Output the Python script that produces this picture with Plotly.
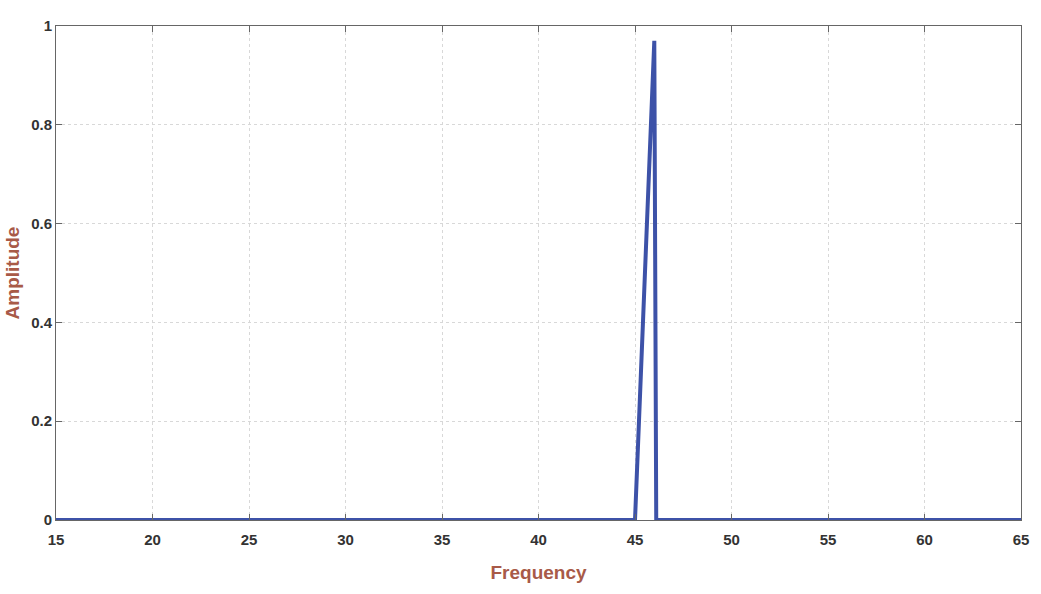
import plotly.graph_objects as go

freq = [15, 45.0, 46.0, 46.1, 65]
amplitude = [0, 0, 0.97, 0, 0]
x_ticks = [15, 20, 25, 30, 35, 40, 45, 50, 55, 60, 65]
y_ticks = [0, 0.2, 0.4, 0.6, 0.8, 1]
y_labels = ["0", "0.2", "0.4", "0.6", "0.8", "1"]

fig = go.Figure()
fig.add_trace(go.Scatter(x=freq, y=amplitude, mode="lines",
                         line=dict(color="#3d52a8", width=4), showlegend=False))

tick_font = dict(family="Liberation Sans Narrow, Arial Narrow, sans-serif", size=15,
                 color="#333333", weight="bold")
title_font = dict(family="Liberation Sans Narrow, Arial Narrow, sans-serif", size=19,
                  color="#a85a48", weight="bold")

fig.update_layout(
    width=1041, height=594,
    margin=dict(l=55, r=14, t=26, b=74),
    paper_bgcolor="white", plot_bgcolor="white",
    xaxis=dict(range=[15, 65], tickvals=x_ticks, ticktext=[str(v) for v in x_ticks],
               showgrid=True, gridcolor="#d8d8d8", griddash="dot", gridwidth=1,
               showline=True, linecolor="#666666", linewidth=1, mirror="ticks",
               ticks="inside", ticklen=6, tickcolor="#666666",
               tickfont=tick_font, zeroline=False, ticklabelstandoff=6,
               title=dict(text="Frequency", font=title_font, standoff=18)),
    yaxis=dict(range=[0, 1], tickvals=y_ticks, ticktext=y_labels,
               showgrid=True, gridcolor="#d8d8d8", griddash="dot", gridwidth=1,
               showline=True, linecolor="#666666", linewidth=1, mirror="ticks",
               ticks="inside", ticklen=6, tickcolor="#666666",
               tickfont=tick_font, zeroline=False,
               title=dict(text="Amplitude", font=title_font, standoff=6)),
)

fig.write_html("out.html")
